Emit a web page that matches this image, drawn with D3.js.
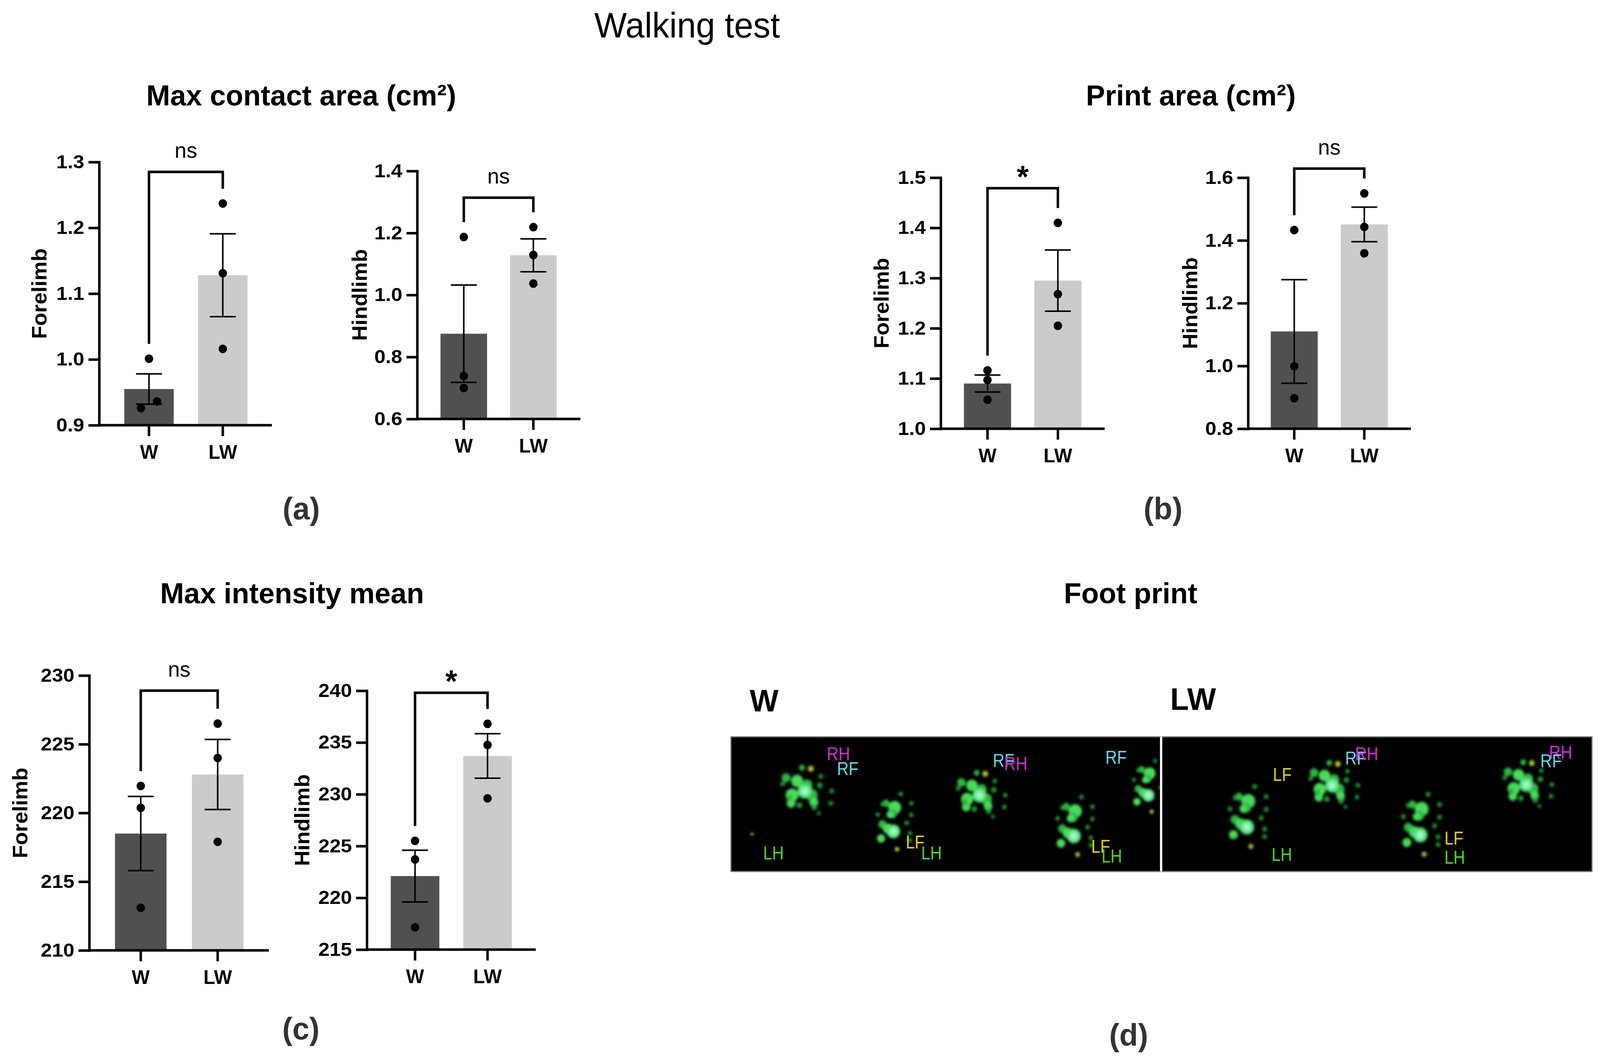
<!DOCTYPE html>
<html>
<head>
<meta charset="utf-8">
<script src="https://cdn.jsdelivr.net/npm/d3@7"></script>
<style>
  html, body { margin: 0; padding: 0; background: #fff; overflow: hidden; }
  svg { display: block; width: 100vw; height: 100vh; }
  text { font-family: "Liberation Sans", Arial, Helvetica, sans-serif; }
</style>
</head>
<body>
<div id="fig"></div>
<script>
// ---- data ----
const groups = ["W", "LW"];

// (a) max contact area
const contactForeMean = [0.955, 1.128];
const contactForeSem = [0.023, 0.063];
const contactForePts = [[1.001, 0.926, 0.936], [1.237, 1.131, 1.016]];
const contactHindMean = [0.875, 1.128];
const contactHindSem = [0.157, 0.053];
const contactHindPts = [[1.187, 0.739, 0.700], [1.219, 1.129, 1.037]];

// (b) print area
const printForeMean = [1.090, 1.295];
const printForeSem = [0.017, 0.061];
const printForePts = [[1.116, 1.097, 1.058], [1.410, 1.268, 1.205]];
const printHindMean = [1.110, 1.451];
const printHindSem = [0.165, 0.055];
const printHindPts = [[1.433, 0.999, 0.897], [1.550, 1.443, 1.359]];

// (c) max intensity mean
const intensForeMean = [218.5, 222.8];
const intensForeSem = [2.7, 2.55];
const intensForePts = [[221.96, 220.37, 213.1], [226.5, 224.0, 217.9]];
const intensHindMean = [222.1, 233.7];
const intensHindSem = [2.5, 2.15];
const intensHindPts = [[225.5, 223.7, 217.15], [236.8, 234.76, 229.6]];

// axis ticks
const contactForeTicks = [0.9, 1.0, 1.1, 1.2, 1.3];
const contactHindTicks = [0.6, 0.8, 1.0, 1.2, 1.4];
const printForeTicks = [1.0, 1.1, 1.2, 1.3, 1.4, 1.5];
const printHindTicks = [0.8, 1.0, 1.2, 1.4, 1.6];
const intensForeTicks = [210, 215, 220, 225, 230];
const intensHindTicks = [215, 220, 225, 230, 235, 240];

// significance marks and the value where each bracket sits
const sigLabels = ["ns", "ns", "*", "ns", "ns", "*"];
const sigLevels = [1.285, 1.314, 1.479, 1.629, 228.9, 239.8];

// (d) footprints, positions in percent of each image panel
const pawsW = [
  { x: 16.3, y: 38.0, shape: "compact", s: 1.3 },
  { x: 37.4, y: 60.5, shape: "long", s: 1.2 },
  { x: 57.0, y: 41.2, shape: "compact", s: 1.25 },
  { x: 79.4, y: 63.5, shape: "long", s: 1.25 },
  { x: 96.8, y: 34.5, shape: "long", s: 1.1 },
  { x: 4.9, y: 72.2, shape: "dot", s: 1.0 }
];
const pawsLW = [
  { x: 19.3, y: 56.5, shape: "long", s: 1.3 },
  { x: 38.7, y: 33.9, shape: "compact", s: 1.25 },
  { x: 59.6, y: 62.3, shape: "long", s: 1.3 },
  { x: 83.8, y: 33.3, shape: "compact", s: 1.25 }
];
const footLabelsW = [
  { t: "RH", x: 22.3, y: 17.4 }, { t: "RF", x: 24.7, y: 28.4 },
  { t: "RF", x: 61.0, y: 22.3 }, { t: "RH", x: 63.6, y: 24.6 },
  { t: "RF", x: 87.2, y: 20.0 }, { t: "LH", x: 7.5, y: 91.0 },
  { t: "LF", x: 40.7, y: 82.9 }, { t: "LH", x: 44.3, y: 91.0 },
  { t: "LF", x: 83.9, y: 86.1 }, { t: "LH", x: 86.3, y: 93.3 }
];
const footLabelsLW = [
  { t: "RF", x: 42.6, y: 20.6 }, { t: "RH", x: 44.9, y: 17.4 },
  { t: "LF", x: 25.8, y: 32.8 }, { t: "RH", x: 90.0, y: 16.2 },
  { t: "RF", x: 88.0, y: 22.6 }, { t: "LH", x: 25.5, y: 92.2 },
  { t: "LF", x: 65.7, y: 80.0 }, { t: "LH", x: 65.7, y: 94.2 }
];

// spot patterns of one print: [dx, dy, r, kind]
const pawShapes = {
  compact: [
    [-18, 14, 13, "main"], [22, 14, 12, "dark"], [-8, -14, 12, "main"], [12, -6, 11, "dark"],
    [26, 28, 9, "main"], [-30, -20, 9, "dark"], [-20, 30, 9, "main"], [8, 6, 15, "core"],
    [-37, -8, 5, "toe"], [-23, 20, 6, "toe"], [-3, 34, 6, "toe"], [27, 38, 6, "toe"],
    [40, -23, 5, "toe"], [38, -5, 6, "toe"], [62, 6, 5, "toe"], [60, 30, 5, "toe"],
    [36, 50, 4, "toe"], [2, -40, 6, "dark"], [20, -38, 6, "yellow"]
  ],
  long: [
    [7, -23, 14, "main"], [-20, 13, 9, "dark"], [-23, 43, 9, "main"], [2, -10, 10, "dark"],
    [-3, -8, 8, "main"], [-12, -32, 8, "dark"], [-8, 22, 11, "main"], [4, 28, 15, "core"],
    [20, -52, 5, "toe"], [43, -32, 5, "toe"], [43, -7, 5, "toe"], [33, 10, 5, "toe"],
    [40, 32, 5, "toe"], [40, 47, 5, "toe"], [-20, -30, 5, "toe"], [-30, -8, 5, "toe"],
    [12, 66, 5, "yellow"]
  ],
  dot: [[0, 0, 5, "toe"]]
};

const barColors = ["#505050", "#cbcbcb"];
const footColors = { RH: "#d42ad4", RF: "#62d8e6", LF: "#e2cf00", LH: "#4fd41e" };
const spotFill = { main: "#48dc5c", dark: "#2fb444", toe: "#2aa83a", yellow: "#b5c632", core: "url(#core)" };

// ---- layout ----
const W = 4196, H = 2725;
const dotR = 11;

const charts = [
  { label: "Forelimb", mean: contactForeMean, sem: contactForeSem, pts: contactForePts, ticks: contactForeTicks,
    fmt: ".1f", x0: 260, x1: 713, band: [262, 713], yr: [1089, 415], labelGap: 138 },
  { label: "Hindlimb", mean: contactHindMean, sem: contactHindSem, pts: contactHindPts, ticks: contactHindTicks,
    fmt: ".1f", x0: 1094, x1: 1522, band: [1095, 1520], yr: [1073, 438], labelGap: 132 },
  { label: "Forelimb", mean: printForeMean, sem: printForeSem, pts: printForePts, ticks: printForeTicks,
    fmt: ".1f", x0: 2467, x1: 2897, band: [2467, 2897], yr: [1098, 455], labelGap: 136 },
  { label: "Hindlimb", mean: printHindMean, sem: printHindSem, pts: printHindPts, ticks: printHindTicks,
    fmt: ".1f", x0: 3273, x1: 3700, band: [3272, 3700], yr: [1098, 455], labelGap: 133 },
  { label: "Forelimb", mean: intensForeMean, sem: intensForeSem, pts: intensForePts, ticks: intensForeTicks,
    fmt: "d", x0: 234, x1: 705, band: [235, 705], yr: [2434, 1730], labelGap: 162 },
  { label: "Hindlimb", mean: intensHindMean, sem: intensHindSem, pts: intensHindPts, ticks: intensHindTicks,
    fmt: "d", x0: 962, x1: 1405, band: [962, 1405], yr: [2432, 1769], labelGap: 151 }
];

// stretch to the window so the drawing fills the whole photo
const svg = d3.select("#fig").append("svg")
  .attr("viewBox", `0 0 ${W} ${H}`)
  .attr("preserveAspectRatio", "none");

svg.append("rect").attr("width", W).attr("height", H).attr("fill", "#fff");

const defs = svg.append("defs");
const grad = defs.append("radialGradient").attr("id", "core");
grad.append("stop").attr("offset", "0%").attr("stop-color", "#c8fff0");
grad.append("stop").attr("offset", "50%").attr("stop-color", "#7aeea4");
grad.append("stop").attr("offset", "100%").attr("stop-color", "#3cd352");
defs.append("filter").attr("id", "blur")
  .attr("x", "-50%").attr("y", "-50%").attr("width", "200%").attr("height", "200%")
  .append("feGaussianBlur").attr("stdDeviation", 2.8);

// points closer than a dot diameter are pushed apart sideways
function spread(vals, y) {
  const order = vals.map((v, i) => i).sort((a, b) => vals[a] - vals[b]);
  const off = vals.map(() => 0);
  for (let k = 1; k < order.length; k++) {
    const a = order[k - 1], b = order[k];
    if (Math.abs(y(vals[a]) - y(vals[b])) < 2 * dotR && off[a] === 0) {
      off[a] = -21;
      off[b] = 21;
    }
  }
  return off;
}

function drawChart(c, i) {
  const g = svg.append("g");
  const y = d3.scaleLinear().domain(d3.extent(c.ticks)).range(c.yr);
  const x = d3.scaleBand().domain(groups).range(c.band).paddingInner(0.33).paddingOuter(0.33);
  const bw = x.bandwidth();
  const cx = d => x(d) + bw / 2;
  const base = y(c.ticks[0]);

  // bars
  g.selectAll(".bar").data(groups).join("rect")
    .attr("class", "bar")
    .attr("x", d => x(d))
    .attr("width", bw)
    .attr("y", (d, j) => y(c.mean[j]))
    .attr("height", (d, j) => base - y(c.mean[j]))
    .attr("fill", (d, j) => barColors[j]);

  // mean +/- SEM
  const eb = g.selectAll(".err").data(groups).join("g").attr("class", "err")
    .attr("stroke", "#000").attr("stroke-width", 4);
  eb.append("line")
    .attr("x1", d => cx(d)).attr("x2", d => cx(d))
    .attr("y1", (d, j) => y(c.mean[j] + c.sem[j]))
    .attr("y2", (d, j) => y(c.mean[j] - c.sem[j]));
  eb.append("line")
    .attr("x1", d => cx(d) - 34).attr("x2", d => cx(d) + 34)
    .attr("y1", (d, j) => y(c.mean[j] + c.sem[j]))
    .attr("y2", (d, j) => y(c.mean[j] + c.sem[j]));
  eb.append("line")
    .attr("x1", d => cx(d) - 34).attr("x2", d => cx(d) + 34)
    .attr("y1", (d, j) => y(c.mean[j] - c.sem[j]))
    .attr("y2", (d, j) => y(c.mean[j] - c.sem[j]));

  // individual animals
  groups.forEach((grp, j) => {
    const off = spread(c.pts[j], y);
    g.selectAll(".pt" + j).data(c.pts[j]).join("circle")
      .attr("cx", (d, k) => cx(grp) + off[k])
      .attr("cy", d => y(d))
      .attr("r", dotR)
      .attr("fill", "#000");
  });

  // y axis
  const yAxis = g.append("g")
    .attr("transform", `translate(${c.x0},0)`)
    .call(d3.axisLeft(y).tickValues(c.ticks).tickFormat(d3.format(c.fmt)).tickSize(28).tickSizeOuter(0));
  yAxis.attr("font-family", null).attr("font-size", null);
  yAxis.select(".domain").attr("stroke-width", 6.5).attr("stroke-linecap", "square");
  yAxis.selectAll(".tick line").attr("stroke-width", 6.5);
  yAxis.selectAll(".tick text")
    .attr("x", 0)
    .attr("transform", "translate(-39,0) scale(1.1,1)")
    .attr("font-size", 48)
    .attr("font-weight", "bold")
    .attr("fill", "#000");

  // x axis
  g.append("line")
    .attr("x1", c.x0).attr("x2", c.x1)
    .attr("y1", base).attr("y2", base)
    .attr("stroke", "#000").attr("stroke-width", 6.5);
  const xAxis = g.append("g")
    .attr("transform", `translate(0,${base})`)
    .call(d3.axisBottom(x).tickSize(28).tickSizeOuter(0));
  xAxis.attr("font-family", null).attr("font-size", null);
  xAxis.select(".domain").remove();
  xAxis.selectAll(".tick line").attr("stroke-width", 6.5);
  xAxis.selectAll(".tick text")
    .attr("y", 86).attr("dy", 0)
    .attr("font-size", 50)
    .attr("font-weight", "bold")
    .attr("fill", "#000");

  // y label
  g.append("text")
    .attr("transform", `translate(${c.x0 - c.labelGap},${(c.yr[0] + c.yr[1]) / 2}) rotate(-90)`)
    .attr("text-anchor", "middle")
    .attr("font-size", 55)
    .attr("font-weight", "bold")
    .text(c.label);

  // significance bracket
  const top = y(sigLevels[i]);
  const legW = y(d3.max(c.pts[0])) - 38;
  const legLW = y(d3.max(c.pts[1])) - 38;
  g.append("path")
    .attr("d", `M${cx("W")},${legW}V${top}H${cx("LW")}V${legLW}`)
    .attr("fill", "none")
    .attr("stroke", "#000")
    .attr("stroke-width", 6.5)
    .attr("stroke-linejoin", "miter");
  const star = sigLabels[i] === "*";
  g.append("text")
    .attr("x", (cx("W") + cx("LW")) / 2)
    .attr("y", star ? top - 2 : top - 36)
    .attr("text-anchor", "middle")
    .attr("font-size", star ? 80 : 56)
    .attr("font-weight", star ? "bold" : "normal")
    .text(sigLabels[i]);
}

charts.forEach(drawChart);

// ---- titles ----
svg.append("text")
  .attr("x", 1802).attr("y", 96)
  .attr("text-anchor", "middle")
  .attr("font-size", 90)
  .text("Walking test");

const titles = [
  { t: "Max contact area (cm²)", x: 790, y: 270 },
  { t: "Print area (cm²)", x: 3123, y: 270 },
  { t: "Max intensity mean", x: 766, y: 1545 },
  { t: "Foot print", x: 2965, y: 1545 }
];
svg.selectAll(".title").data(titles).join("text")
  .attr("class", "title")
  .attr("x", d => d.x).attr("y", d => d.y)
  .attr("text-anchor", "middle")
  .attr("font-size", 75)
  .attr("font-weight", "bold")
  .text(d => d.t);

const panelTags = [
  { t: "(a)", x: 790, y: 1330 },
  { t: "(b)", x: 3050, y: 1330 },
  { t: "(c)", x: 789, y: 2662 },
  { t: "(d)", x: 2960, y: 2678 }
];
svg.selectAll(".tag").data(panelTags).join("text")
  .attr("class", "tag")
  .attr("x", d => d.x).attr("y", d => d.y)
  .attr("text-anchor", "middle")
  .attr("font-size", 80)
  .attr("font-weight", "bold")
  .attr("fill", "#333")
  .text(d => d.t);

// ---- (d) footprint images ----
const footPanels = [
  { name: "W", x0: 1917, x1: 3043, paws: pawsW, labels: footLabelsW, tagX: 1966, tagY: 1822 },
  { name: "LW", x0: 3047, x1: 4175, paws: pawsLW, labels: footLabelsLW, tagX: 3069, tagY: 1818 }
];
const fy = d3.scaleLinear().domain([0, 100]).range([1887, 2232]);

footPanels.forEach((p, i) => {
  const fx = d3.scaleLinear().domain([0, 100]).range([p.x0, p.x1]);

  svg.append("text")
    .attr("x", p.tagX).attr("y", p.tagY)
    .attr("font-size", 80)
    .attr("font-weight", "bold")
    .text(p.name);

  defs.append("clipPath").attr("id", "clip" + i)
    .append("rect")
    .attr("x", fx(0)).attr("y", fy(0))
    .attr("width", fx(100) - fx(0)).attr("height", fy(100) - fy(0));

  svg.append("rect")
    .attr("x", fx(0)).attr("y", fy(0))
    .attr("width", fx(100) - fx(0)).attr("height", fy(100) - fy(0))
    .attr("fill", "#000")
    .attr("stroke", "#7a7a7a")
    .attr("stroke-width", 3);

  const pg = svg.append("g").attr("clip-path", `url(#clip${i})`);
  const paw = pg.selectAll(".paw").data(p.paws).join("g")
    .attr("class", "paw")
    .attr("transform", d => `translate(${fx(d.x)},${fy(d.y)}) scale(${d.s})`)
    .attr("filter", "url(#blur)");
  paw.selectAll("circle").data(d => pawShapes[d.shape]).join("circle")
    .attr("cx", d => d[0])
    .attr("cy", d => d[1])
    .attr("r", d => d[2])
    .attr("fill", d => spotFill[d[3]])
    .attr("opacity", d => d[3] === "toe" ? 0.85 : 1);

  pg.selectAll(".flab").data(p.labels).join("text")
    .attr("class", "flab")
    .attr("transform", d => `translate(${fx(d.x)},${fy(d.y)}) scale(0.88,1)`)
    .attr("font-size", 48)
    .attr("fill", d => footColors[d.t])
    .text(d => d.t);
});

// white divider between the two image panels
svg.append("line")
  .attr("x1", 3045).attr("x2", 3045)
  .attr("y1", fy(0)).attr("y2", fy(100))
  .attr("stroke", "#fff").attr("stroke-width", 5);
</script>
</body>
</html>
